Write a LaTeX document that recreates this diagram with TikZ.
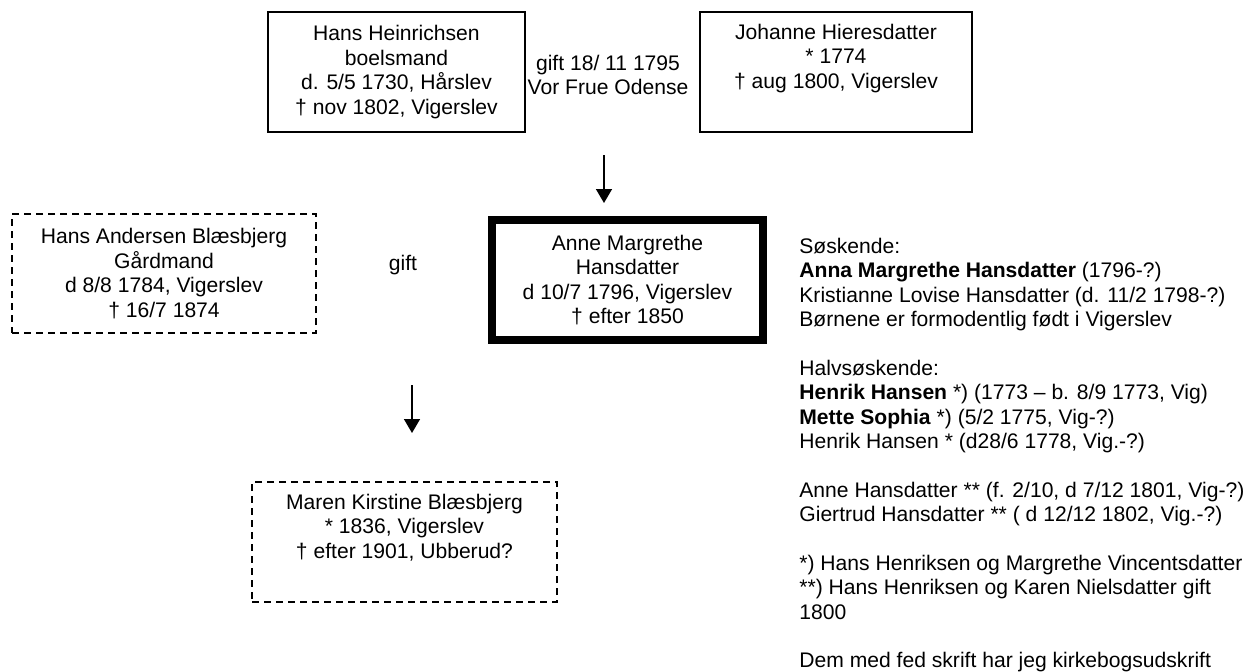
\documentclass[tikz,border=0pt]{standalone}
\usepackage{fontspec}
\setmainfont{Liberation Sans}
\usetikzlibrary{arrows.meta}

\begin{document}
\begin{tikzpicture}[x=0.5pt,y=-0.5pt,
	font=\fontsize{10.55}{12.2}\selectfont,
	person/.style={draw,line width=0.75pt,align=center,inner sep=0pt},
	usikker/.style={draw,line width=1pt,dash pattern=on 3.5pt off 2.5pt,align=center,inner sep=0pt},
	hoved/.style={draw,line width=4pt,align=center,inner sep=0pt},
	pil/.style={line width=0.75pt,-{Triangle[width=8pt,length=7pt]}}]
	\useasboundingbox (0,0) rectangle (1250,671);
	\node[person,minimum width=128.5pt,minimum height=60pt] (hans) at (396.5,72) {Hans Heinrichsen\\boelsmand\\d. 5/5 1730, Hårslev\\† nov 1802, Vigerslev};
	\node[person,minimum width=136pt,minimum height=60pt] (johanne) at (836,72) {Johanne Hieresdatter\\* 1774\\† aug 1800, Vigerslev\\\strut};
	\node[align=center,inner sep=0pt] (gift1) at (608,75) {gift 18/ 11 1795\\Vor Frue Odense};
	\node[usikker,minimum width=152pt,minimum height=59.5pt] (hansa) at (164,273.5) {Hans Andersen Blæsbjerg\\Gårdmand\\d 8/8 1784, Vigerslev\\† 16/7 1874};
	\node[inner sep=0pt] (gift2) at (403,265) {gift};
	\node[hoved,minimum width=135.5pt,minimum height=60pt] (anne) at (627.5,280) {Anne Margrethe\\Hansdatter\\d 10/7 1796, Vigerslev\\† efter 1850};
	\node[usikker,minimum width=152.5pt,minimum height=60pt] (maren) at (404.5,542) {Maren Kirstine Blæsbjerg\\* 1836, Vigerslev\\† efter 1901, Ubberud?\\\strut};
	\node[anchor=north west,align=left,inner sep=0pt] (info) at (799,237.5) {Søskende:\\
		\textbf{Anna Margrethe Hansdatter} (1796-?)\\
		Kristianne Lovise Hansdatter (d. 11/2 1798-?)\\
		Børnene er formodentlig født i Vigerslev\\[12.2pt]
		Halvsøskende:\\
		\textbf{Henrik Hansen} *) (1773 – b. 8/9 1773, Vig)\\
		\textbf{Mette Sophia} *) (5/2 1775, Vig-?)\\
		Henrik Hansen * (d28/6 1778, Vig.-?)\\[12.2pt]
		Anne Hansdatter ** (f. 2/10, d 7/12 1801, Vig-?)\\
		Giertrud Hansdatter ** ( d 12/12 1802, Vig.-?)\\[12.2pt]
		*) Hans Henriksen og Margrethe Vincentsdatter\\
		**) Hans Henriksen og Karen Nielsdatter gift\\
		1800\\[12.2pt]
		Dem med fed skrift har jeg kirkebogsudskrift};
	\coordinate (p1) at (604,155);
	\coordinate (p2) at (604,203);
	\coordinate (p3) at (412,385);
	\coordinate (p4) at (412,433);
	\draw[pil] (p1) -- (p2);
	\draw[pil] (p3) -- (p4);
\end{tikzpicture}
\end{document}
